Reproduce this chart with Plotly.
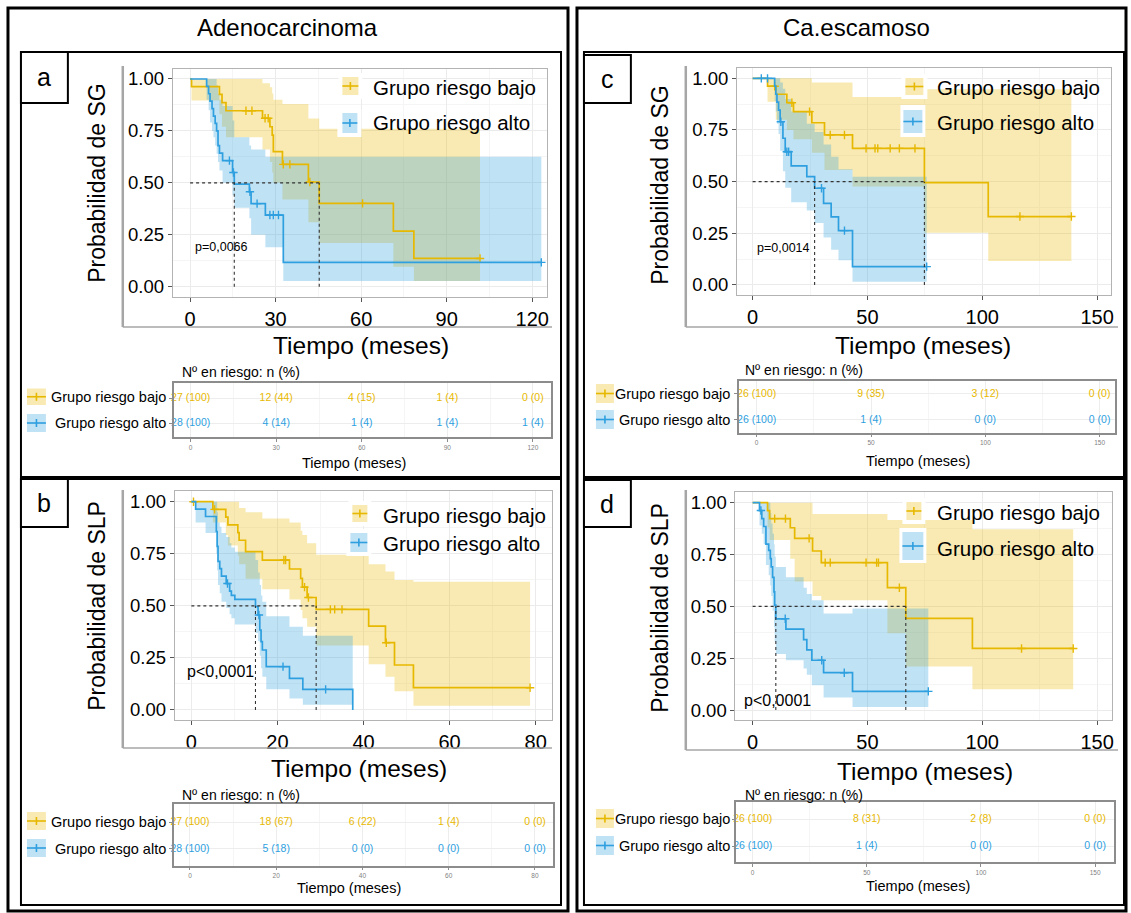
import numpy as np
import plotly.graph_objects as go

W, H = 1131, 913
YEL = "#E7B800"
BLU = "#2E9FDF"
YEL_F = "rgba(231,184,0,0.30)"
BLU_F = "rgba(46,159,223,0.30)"
FONT = "Liberation Sans, Arial, sans-serif"

# ---------------- Panel a: SG, Adenocarcinoma ----------------
a_bajo_t = [0, 0.5, 10.3, 11.2, 12.6, 25.4, 28.0, 28.8, 29.2, 32.4, 41.5, 45.3, 71.3, 78.5]
a_bajo_s = [1.0, 0.963, 0.926, 0.886, 0.847, 0.811, 0.77, 0.73, 0.65, 0.589, 0.504, 0.401, 0.268, 0.136]
a_bajo_lo = [1.0, 0.896, 0.83, 0.77, 0.72, 0.66, 0.6, 0.55, 0.5, 0.42, 0.31, 0.21, 0.096, 0.027]
a_bajo_up = [1.0, 1.0, 1.0, 1.0, 1.0, 0.98, 0.96, 0.93, 0.9, 0.88, 0.81, 0.76, 0.76, 0.76]
a_bajo_cens = [19.6, 21.7, 26.3, 27.4, 32.7, 35.0, 42.0, 60.5, 101.7]

a_alto_t = [0, 5.8, 6.5, 7.0, 7.7, 8.2, 8.8, 9.3, 9.8, 10.3, 11.4, 14.9, 15.5, 20.8, 21.4, 26.4, 32.7]
a_alto_s = [1.0, 0.964, 0.929, 0.893, 0.857, 0.821, 0.786, 0.75, 0.679, 0.643, 0.607, 0.55, 0.494, 0.457, 0.40, 0.345, 0.117]
a_alto_lo = [1.0, 0.9, 0.85, 0.79, 0.75, 0.72, 0.68, 0.64, 0.6, 0.56, 0.5, 0.44, 0.38, 0.33, 0.25, 0.19, 0.027]
a_alto_up = [1.0, 1.0, 1.0, 1.0, 1.0, 1.0, 1.0, 0.97, 0.93, 0.9, 0.87, 0.8, 0.72, 0.68, 0.66, 0.626, 0.626]
a_alto_cens = [13.8, 15.2, 21.0, 23.5, 28.0, 29.2, 31.0, 123.2]

# ---------------- Panel b: SLP, Adenocarcinoma ----------------
b_bajo_t = [0, 5.0, 8.0, 8.5, 10.8, 11.1, 12.6, 16.5, 22.8, 25.4, 25.8, 26.9, 29.0, 41.2, 45.1, 47.2, 51.6]
b_bajo_s = [1.0, 0.963, 0.926, 0.889, 0.852, 0.815, 0.76, 0.72, 0.677, 0.632, 0.59, 0.54, 0.483, 0.403, 0.323, 0.216, 0.107]
b_bajo_lo = [1.0, 0.9, 0.84, 0.79, 0.74, 0.7, 0.63, 0.58, 0.53, 0.48, 0.44, 0.4, 0.31, 0.22, 0.16, 0.09, 0.02]
b_bajo_up = [1.0, 1.0, 1.0, 1.0, 1.0, 0.97, 0.95, 0.92, 0.9, 0.86, 0.84, 0.8, 0.745, 0.70, 0.665, 0.624, 0.616]
b_bajo_cens = [0.5, 5.4, 21.5, 21.9, 26.3, 27.2, 32.3, 33.3, 35.0, 45.3, 78.7]

b_alto_t = [0, 1.0, 3.3, 5.8, 6.0, 6.2, 6.6, 7.0, 8.1, 8.9, 9.3, 10.1, 14.9, 15.5, 15.9, 16.2, 16.5, 17.4, 22.8, 25.9, 37.5]
b_alto_s = [1.0, 0.964, 0.929, 0.857, 0.786, 0.714, 0.679, 0.643, 0.607, 0.571, 0.55, 0.531, 0.496, 0.456, 0.384, 0.328, 0.288, 0.208, 0.152, 0.099, 0.0]
b_alto_lo = [1.0, 0.9, 0.85, 0.75, 0.67, 0.6, 0.56, 0.52, 0.49, 0.46, 0.44, 0.41, 0.37, 0.33, 0.26, 0.2, 0.16, 0.1, 0.055, 0.025, 0.025]
b_alto_up = [1.0, 1.0, 1.0, 1.0, 0.95, 0.9, 0.88, 0.85, 0.83, 0.8, 0.78, 0.76, 0.72, 0.66, 0.6, 0.55, 0.52, 0.45, 0.4, 0.357, 0.357]
b_alto_cens = [8.4, 15.7, 21.3, 31.2]

# ---------------- Panel c: SG, Ca.escamoso ----------------
c_bajo_t = [0, 6.5, 10.1, 14.9, 17.8, 25.8, 31.3, 43.5, 74.8, 102.6]
c_bajo_s = [1.0, 0.962, 0.923, 0.882, 0.839, 0.785, 0.726, 0.661, 0.495, 0.331]
c_bajo_lo = [1.0, 0.887, 0.8, 0.75, 0.705, 0.64, 0.556, 0.476, 0.253, 0.116]
c_bajo_up = [1.0, 1.0, 1.0, 1.0, 1.0, 0.98, 0.98, 0.91, 0.947, 0.947]
c_bajo_cens = [9.6, 17.1, 24.8, 33.8, 40.0, 49.4, 53.3, 54.5, 59.9, 63.9, 70.7, 116.4, 138.8]

c_alto_t = [0, 9.6, 10.1, 10.6, 11.3, 12.0, 13.2, 14.2, 16.8, 23.6, 27.0, 30.9, 34.2, 37.4, 43.5]
c_alto_s = [1.0, 0.962, 0.923, 0.885, 0.846, 0.79, 0.71, 0.645, 0.576, 0.524, 0.468, 0.395, 0.33, 0.263, 0.089]
c_alto_lo = [1.0, 0.89, 0.84, 0.78, 0.73, 0.65, 0.55, 0.47, 0.4, 0.36, 0.3, 0.23, 0.17, 0.12, 0.015]
c_alto_up = [1.0, 1.0, 1.0, 1.0, 1.0, 0.98, 0.95, 0.9, 0.84, 0.78, 0.74, 0.68, 0.62, 0.56, 0.524]
c_alto_cens = [3.8, 6.5, 12.3, 14.9, 15.7, 30.0, 40.0, 75.8]

# ---------------- Panel d: SLP, Ca.escamoso ----------------
d_bajo_t = [0, 6.5, 7.4, 16.4, 18.3, 26.1, 29.9, 58.7, 66.7, 95.7]
d_bajo_s = [1.0, 0.962, 0.923, 0.879, 0.828, 0.767, 0.711, 0.59, 0.442, 0.297]
d_bajo_lo = [1.0, 0.88, 0.82, 0.73, 0.62, 0.55, 0.53, 0.37, 0.21, 0.1]
d_bajo_up = [1.0, 1.0, 1.0, 1.0, 1.0, 0.945, 0.945, 0.916, 0.916, 0.872]
d_bajo_cens = [9.6, 14.3, 24.6, 31.6, 33.8, 49.4, 54.0, 54.8, 63.9, 117.1, 139.6]

d_alto_t = [0, 3.0, 4.0, 4.8, 5.8, 7.0, 7.7, 8.1, 8.7, 9.3, 9.6, 10.1, 14.5, 22.2, 23.6, 25.8, 30.9, 43.5]
d_alto_s = [1.0, 0.962, 0.923, 0.885, 0.8, 0.77, 0.73, 0.69, 0.64, 0.57, 0.506, 0.44, 0.39, 0.34, 0.29, 0.24, 0.18, 0.09]
d_alto_lo = [1.0, 0.89, 0.85, 0.8, 0.7, 0.65, 0.6, 0.55, 0.48, 0.4, 0.33, 0.27, 0.24, 0.2, 0.17, 0.12, 0.06, 0.015]
d_alto_up = [1.0, 1.0, 1.0, 1.0, 1.0, 1.0, 0.95, 0.9, 0.85, 0.8, 0.74, 0.69, 0.64, 0.59, 0.56, 0.53, 0.466, 0.49]
d_alto_cens = [3.6, 14.2, 30.1, 39.9, 76.5]

# ---------------- Number at risk ----------------
a_risk_t = [0, 30, 60, 90, 120]
a_risk_bajo = ["27 (100)", "12 (44)", "4 (15)", "1 (4)", "0 (0)"]
a_risk_alto = ["28 (100)", "4 (14)", "1 (4)", "1 (4)", "1 (4)"]
b_risk_t = [0, 20, 40, 60, 80]
b_risk_bajo = ["27 (100)", "18 (67)", "6 (22)", "1 (4)", "0 (0)"]
b_risk_alto = ["28 (100)", "5 (18)", "0 (0)", "0 (0)", "0 (0)"]
c_risk_t = [0, 50, 100, 150]
c_risk_bajo = ["26 (100)", "9 (35)", "3 (12)", "0 (0)"]
c_risk_alto = ["26 (100)", "1 (4)", "0 (0)", "0 (0)"]
d_risk_t = [0, 50, 100, 150]
d_risk_bajo = ["26 (100)", "8 (31)", "2 (8)", "0 (0)"]
d_risk_alto = ["26 (100)", "1 (4)", "0 (0)", "0 (0)"]

p_values = ["p=0,0066", "p<0,0001", "p=0,0014", "p<0,0001"]
group_labels = ["Grupo riesgo bajo", "Grupo riesgo alto"]


def px(x):
    return x / W


def py(y):
    return 1 - y / H


fig = go.Figure()
shapes = []
annotations = []
layout_axes = {}


def ax_names(n):
    return ("x", "y") if n == 1 else (f"x{n}", f"y{n}")


def ax_keys(n):
    return ("xaxis", "yaxis") if n == 1 else (f"xaxis{n}", f"yaxis{n}")


def text(x, y, s, size, color="#000000", xanchor="center", angle=0):
    annotations.append(dict(x=px(x), y=py(y), xref="paper", yref="paper", text=s,
                            showarrow=False, xanchor=xanchor, yanchor="middle",
                            textangle=angle, font=dict(family=FONT, size=size, color=color)))


def rect(x0, y0, x1, y1, line=None, lw=0, fill=None):
    shapes.append(dict(type="rect", xref="paper", yref="paper", x0=px(x0), x1=px(x1),
                       y0=py(y1), y1=py(y0), line=dict(color=line or "rgba(0,0,0,0)", width=lw),
                       fillcolor=fill or "rgba(0,0,0,0)", layer="above"))


def seg(x0, y0, x1, y1, color, lw):
    shapes.append(dict(type="line", xref="paper", yref="paper", x0=px(x0), x1=px(x1),
                       y0=py(y0), y1=py(y1), line=dict(color=color, width=lw), layer="above"))


def key(box, fillc, linec, bg=None):
    if bg:
        rect(*bg, fill="#FFFFFF")
    x0, y0, x1, y1 = box
    rect(x0, y0, x1, y1, fill=fillc)
    cy = (y0 + y1) / 2
    cx = (x0 + x1) / 2
    seg(x0, cy, x1, cy, linec, 1.6)
    seg(cx, cy - 4, cx, cy + 4, linec, 1.6)


def step_at(t, s, q):
    idx = np.searchsorted(np.asarray(t), np.asarray(q), side="right") - 1
    return list(np.asarray(s)[idx])


def add_km(n, groups, xr, dtick, xdom, ydom, pval, psize, pxy):
    xa, ya = ax_names(n)
    xk, yk = ax_keys(n)
    # confidence bands
    for g in groups:
        end = max(max(g["cens"]), g["t"][-1])
        x = list(g["t"]) + [end]
        lo = list(g["lo"]) + [g["lo"][-1]]
        up = list(g["up"]) + [g["up"][-1]]
        fig.add_trace(go.Scatter(x=x, y=lo, mode="lines", line=dict(width=0, shape="hv"),
                                 xaxis=xa, yaxis=ya, showlegend=False, hoverinfo="skip"))
        fig.add_trace(go.Scatter(x=x, y=up, mode="lines", line=dict(width=0, shape="hv"),
                                 fill="tonexty", fillcolor=g["fill"], xaxis=xa, yaxis=ya,
                                 showlegend=False, hoverinfo="skip"))
    # median reference lines
    meds = []
    for g in groups:
        s = np.asarray(g["s"])
        idx = np.where(s <= 0.5)[0]
        if len(idx):
            meds.append(g["t"][idx[0]])
    if meds:
        shapes.append(dict(type="line", xref=xa, yref=ya, x0=0, x1=max(meds), y0=0.5, y1=0.5,
                           line=dict(color="#333333", width=1.1, dash="3px,3px"), layer="above"))
        for m in meds:
            shapes.append(dict(type="line", xref=xa, yref=ya, x0=m, x1=m, y0=0, y1=0.5,
                               line=dict(color="#333333", width=1.1, dash="3px,3px"), layer="above"))
    # survival curves and censoring marks
    for g in groups:
        end = max(max(g["cens"]), g["t"][-1])
        fig.add_trace(go.Scatter(x=list(g["t"]) + [end], y=list(g["s"]) + [g["s"][-1]],
                                 mode="lines", line=dict(color=g["color"], width=1.7, shape="hv"),
                                 xaxis=xa, yaxis=ya, showlegend=False, hoverinfo="skip"))
        fig.add_trace(go.Scatter(x=g["cens"], y=step_at(g["t"], g["s"], g["cens"]), mode="markers",
                                 marker=dict(symbol="cross-thin", size=6,
                                             line=dict(color=g["color"], width=1.4)),
                                 xaxis=xa, yaxis=ya, showlegend=False, hoverinfo="skip"))
    annotations.append(dict(x=pxy[0], y=pxy[1], xref=xa, yref=ya, text=pval, showarrow=False,
                            xanchor="left", yanchor="middle",
                            font=dict(family=FONT, size=psize, color="#000000")))
    layout_axes[xk] = dict(domain=[px(xdom[0]), px(xdom[1])], range=xr, anchor=ya,
                           tick0=0, dtick=dtick, showgrid=True, gridcolor="#EBEBEB", gridwidth=1,
                           minor=dict(dtick=dtick / 2, tick0=0, showgrid=True, gridcolor="#F5F5F5"),
                           showline=True, mirror=True, linecolor="#B3B3B3", linewidth=1,
                           ticks="outside", ticklen=4, tickcolor="#555555",
                           tickfont=dict(family=FONT, size=20, color="#000000"),
                           zeroline=False, fixedrange=True)
    layout_axes[yk] = dict(domain=[py(ydom[1]), py(ydom[0])], range=[-0.05, 1.05], anchor=xa,
                           tick0=0, dtick=0.25, tickformat=".2f", showgrid=True,
                           gridcolor="#EBEBEB", gridwidth=1,
                           minor=dict(dtick=0.125, tick0=0, showgrid=True, gridcolor="#F5F5F5"),
                           showline=True, mirror=True, linecolor="#B3B3B3", linewidth=1,
                           ticks="outside", ticklen=4, tickcolor="#555555",
                           tickfont=dict(family=FONT, size=18.5, color="#000000"),
                           zeroline=False, fixedrange=True)


def add_table(n, rt, bajo, alto, xr, dtick, xdom, ydom, yr):
    xa, ya = ax_names(n)
    xk, yk = ax_keys(n)
    fig.add_trace(go.Scatter(x=rt, y=[1] * len(rt), mode="text", text=bajo,
                             textfont=dict(family=FONT, size=10.5, color=YEL), xaxis=xa, yaxis=ya,
                             showlegend=False, hoverinfo="skip", cliponaxis=False))
    fig.add_trace(go.Scatter(x=rt, y=[0] * len(rt), mode="text", text=alto,
                             textfont=dict(family=FONT, size=10.5, color=BLU), xaxis=xa, yaxis=ya,
                             showlegend=False, hoverinfo="skip", cliponaxis=False))
    layout_axes[xk] = dict(domain=[px(xdom[0]), px(xdom[1])], range=xr, anchor=ya,
                           tick0=0, dtick=dtick, showgrid=True, gridcolor="#EDEDED",
                           minor=dict(dtick=dtick / 2, tick0=0, showgrid=True, gridcolor="#F5F5F5"),
                           showline=True, mirror=True, linecolor="#8C8C8C", linewidth=1.5,
                           ticks="outside", ticklen=3, tickcolor="#8C8C8C",
                           tickfont=dict(family=FONT, size=6.5, color="#7F7F7F"),
                           zeroline=False, fixedrange=True)
    layout_axes[yk] = dict(domain=[py(ydom[1]), py(ydom[0])], range=yr, anchor=xa,
                           tickvals=[0, 1], showticklabels=False, ticks="outside", ticklen=3,
                           tickcolor="#8C8C8C", showgrid=True, gridcolor="#EDEDED",
                           showline=True, mirror=True, linecolor="#8C8C8C", linewidth=1.5,
                           zeroline=False, fixedrange=True)


def grp(t, s, lo, up, cens, color, fill):
    return dict(t=t, s=s, lo=lo, up=up, cens=cens, color=color, fill=fill)


# Kaplan-Meier panels
add_km(1, [grp(a_bajo_t, a_bajo_s, a_bajo_lo, a_bajo_up, a_bajo_cens, YEL, YEL_F),
           grp(a_alto_t, a_alto_s, a_alto_lo, a_alto_up, a_alto_cens, BLU, BLU_F)],
       [-6.1, 125.2], 30, (173, 548), (68.6, 297.1), p_values[0], 12.5, (0.9, 0.193))
add_km(2, [grp(b_bajo_t, b_bajo_s, b_bajo_lo, b_bajo_up, b_bajo_cens, YEL, YEL_F),
           grp(b_alto_t, b_alto_s, b_alto_lo, b_alto_up, b_alto_cens, BLU, BLU_F)],
       [-3.87, 83.8], 20, (175, 553), (491.3, 720.4), p_values[1], 16, (-1.5, 0.184))
add_km(3, [grp(c_bajo_t, c_bajo_s, c_bajo_lo, c_bajo_up, c_bajo_cens, YEL, YEL_F),
           grp(c_alto_t, c_alto_s, c_alto_lo, c_alto_up, c_alto_cens, BLU, BLU_F)],
       [-6.8, 156.2], 50, (738.3, 1113.3), (68, 295.3), p_values[2], 12.5, (1.2, 0.177))
add_km(4, [grp(d_bajo_t, d_bajo_s, d_bajo_lo, d_bajo_up, d_bajo_cens, YEL, YEL_F),
           grp(d_alto_t, d_alto_s, d_alto_lo, d_alto_up, d_alto_cens, BLU, BLU_F)],
       [-7.5, 156.5], 50, (736.7, 1114), (492.3, 720.4), p_values[3], 16, (-4.6, 0.045))

# Number-at-risk tables
add_table(5, a_risk_t, a_risk_bajo, a_risk_alto, [-5.95, 126.35], 30, (174, 552), (383, 437), [-0.56, 1.6])
add_table(6, b_risk_t, b_risk_bajo, b_risk_alto, [-3.77, 84.08], 20, (174, 553.5), (804, 865.6), [-0.63, 1.70])
add_table(7, c_risk_t, c_risk_bajo, c_risk_alto, [-7.69, 156.9], 50, (740.4, 1117.4), (381, 432.7), [-0.49, 1.5])
add_table(8, d_risk_t, d_risk_bajo, d_risk_alto, [-7.13, 158.15], 50, (737.7, 1115.7), (802, 862), [-0.59, 1.63])

# Outer frames and panel boxes
rect(8, 8, 569, 911, line="#000000", lw=3)
rect(578, 8, 1128, 911, line="#000000", lw=3)
for (x0, y0, x1, y1) in [(21, 52, 562, 477), (21, 479, 562, 905), (585, 52, 1126, 477), (585, 479, 1126, 905)]:
    rect(x0, y0, x1, y1, line="#000000", lw=2)
for (x0, y0, x1, y1), lab in zip([(21, 52, 68, 103), (21, 479, 68, 527), (585, 55, 632, 103), (585, 480, 632, 527)],
                                 ["a", "b", "c", "d"]):
    rect(x0, y0, x1, y1, line="#000000", lw=2, fill="#FFFFFF")
    text((x0 + x1) / 2, (y0 + y1) / 2, lab, 25)

# grey frame lines around each plot
for (xl, yt, yb, xr_) in [(123, 66, 327, 553), (123, 490, 748, 553), (687, 66, 327, 1120), (687, 490, 750, 1120)]:
    seg(xl, yt, xl, yb, "#A6A6A6", 2.5)
    seg(xl, yb, xr_, yb, "#A6A6A6", 1.5)

# Column titles
text(288, 28, "Adenocarcinoma", 24)
text(858, 28, "Ca.escamoso", 24)

# Axis titles
for (yx, yy, ylab, tx, ty) in [(97, 183, "Probabilidad de SG", 362, 345),
                               (97, 606, "Probabilidad de SLP", 360, 768),
                               (661, 185, "Probabilidad de SG", 925, 345),
                               (661, 608, "Probabilidad de SLP", 927, 771)]:
    text(yx, yy, ylab, 23, angle=-90)
    text(tx, ty, "Tiempo (meses)", 24.5)

# In-plot legends
legend_keys = [
    ((343, 77, 359, 95), (339, 73, 363, 99), (343, 113, 358, 133), (338, 109, 362, 137), 372, 87, 123),
    ((353, 505, 368, 522), (349, 501, 372, 526), (351, 533, 368, 552), (347, 529, 372, 556), 382, 515, 543),
    ((907, 78, 925, 95), (903, 74, 929, 99), (905, 110, 924, 133), (902, 105, 927, 137), 937, 87, 123),
    ((908, 502, 923, 520), (904, 498, 927, 524), (904, 532, 925, 560), (901, 528, 928, 563), 937, 512, 548),
]
for kb, bgb, ka, bga, tx, ty1, ty2 in legend_keys:
    key(kb, YEL_F, YEL, bg=bgb)
    key(ka, BLU_F, BLU, bg=bga)
    text(tx, ty1, group_labels[0], 20.5, xanchor="left")
    text(tx, ty2, group_labels[1], 20.5, xanchor="left")

# Risk table labels
table_labels = [
    (27, 46, 388.5, 405, 414, 432, 168, 397, 423, 180, 372, 355, 463),
    (27, 46, 812, 830, 839, 857, 168, 822, 849, 180, 795, 350, 888),
    (597, 615, 384, 403, 410, 429, 733, 394, 420, 744, 370, 920, 461),
    (597, 615, 809, 828, 836, 855, 733, 819, 846, 744, 795, 920, 886),
]
for kx0, kx1, ky0, ky1, ky2, ky3, lx, ly1, ly2, hx, hy, tx, ty in table_labels:
    key((kx0, ky0, kx1, ky1), YEL_F, YEL)
    key((kx0, ky2, kx1, ky3), BLU_F, BLU)
    text(lx, ly1, group_labels[0], 14.5, xanchor="right")
    text(lx, ly2, group_labels[1], 14.5, xanchor="right")
    text(hx, hy, "Nº en riesgo: n (%)", 14, xanchor="left")
    text(tx, ty, "Tiempo (meses)", 14.5)

fig.update_layout(width=W, height=H, autosize=False,
                  margin=dict(l=0, r=0, t=0, b=0),
                  paper_bgcolor="#FFFFFF", plot_bgcolor="#FFFFFF",
                  font=dict(family=FONT), showlegend=False,
                  shapes=shapes, annotations=annotations, **layout_axes)

fig.write_html("out.html")
